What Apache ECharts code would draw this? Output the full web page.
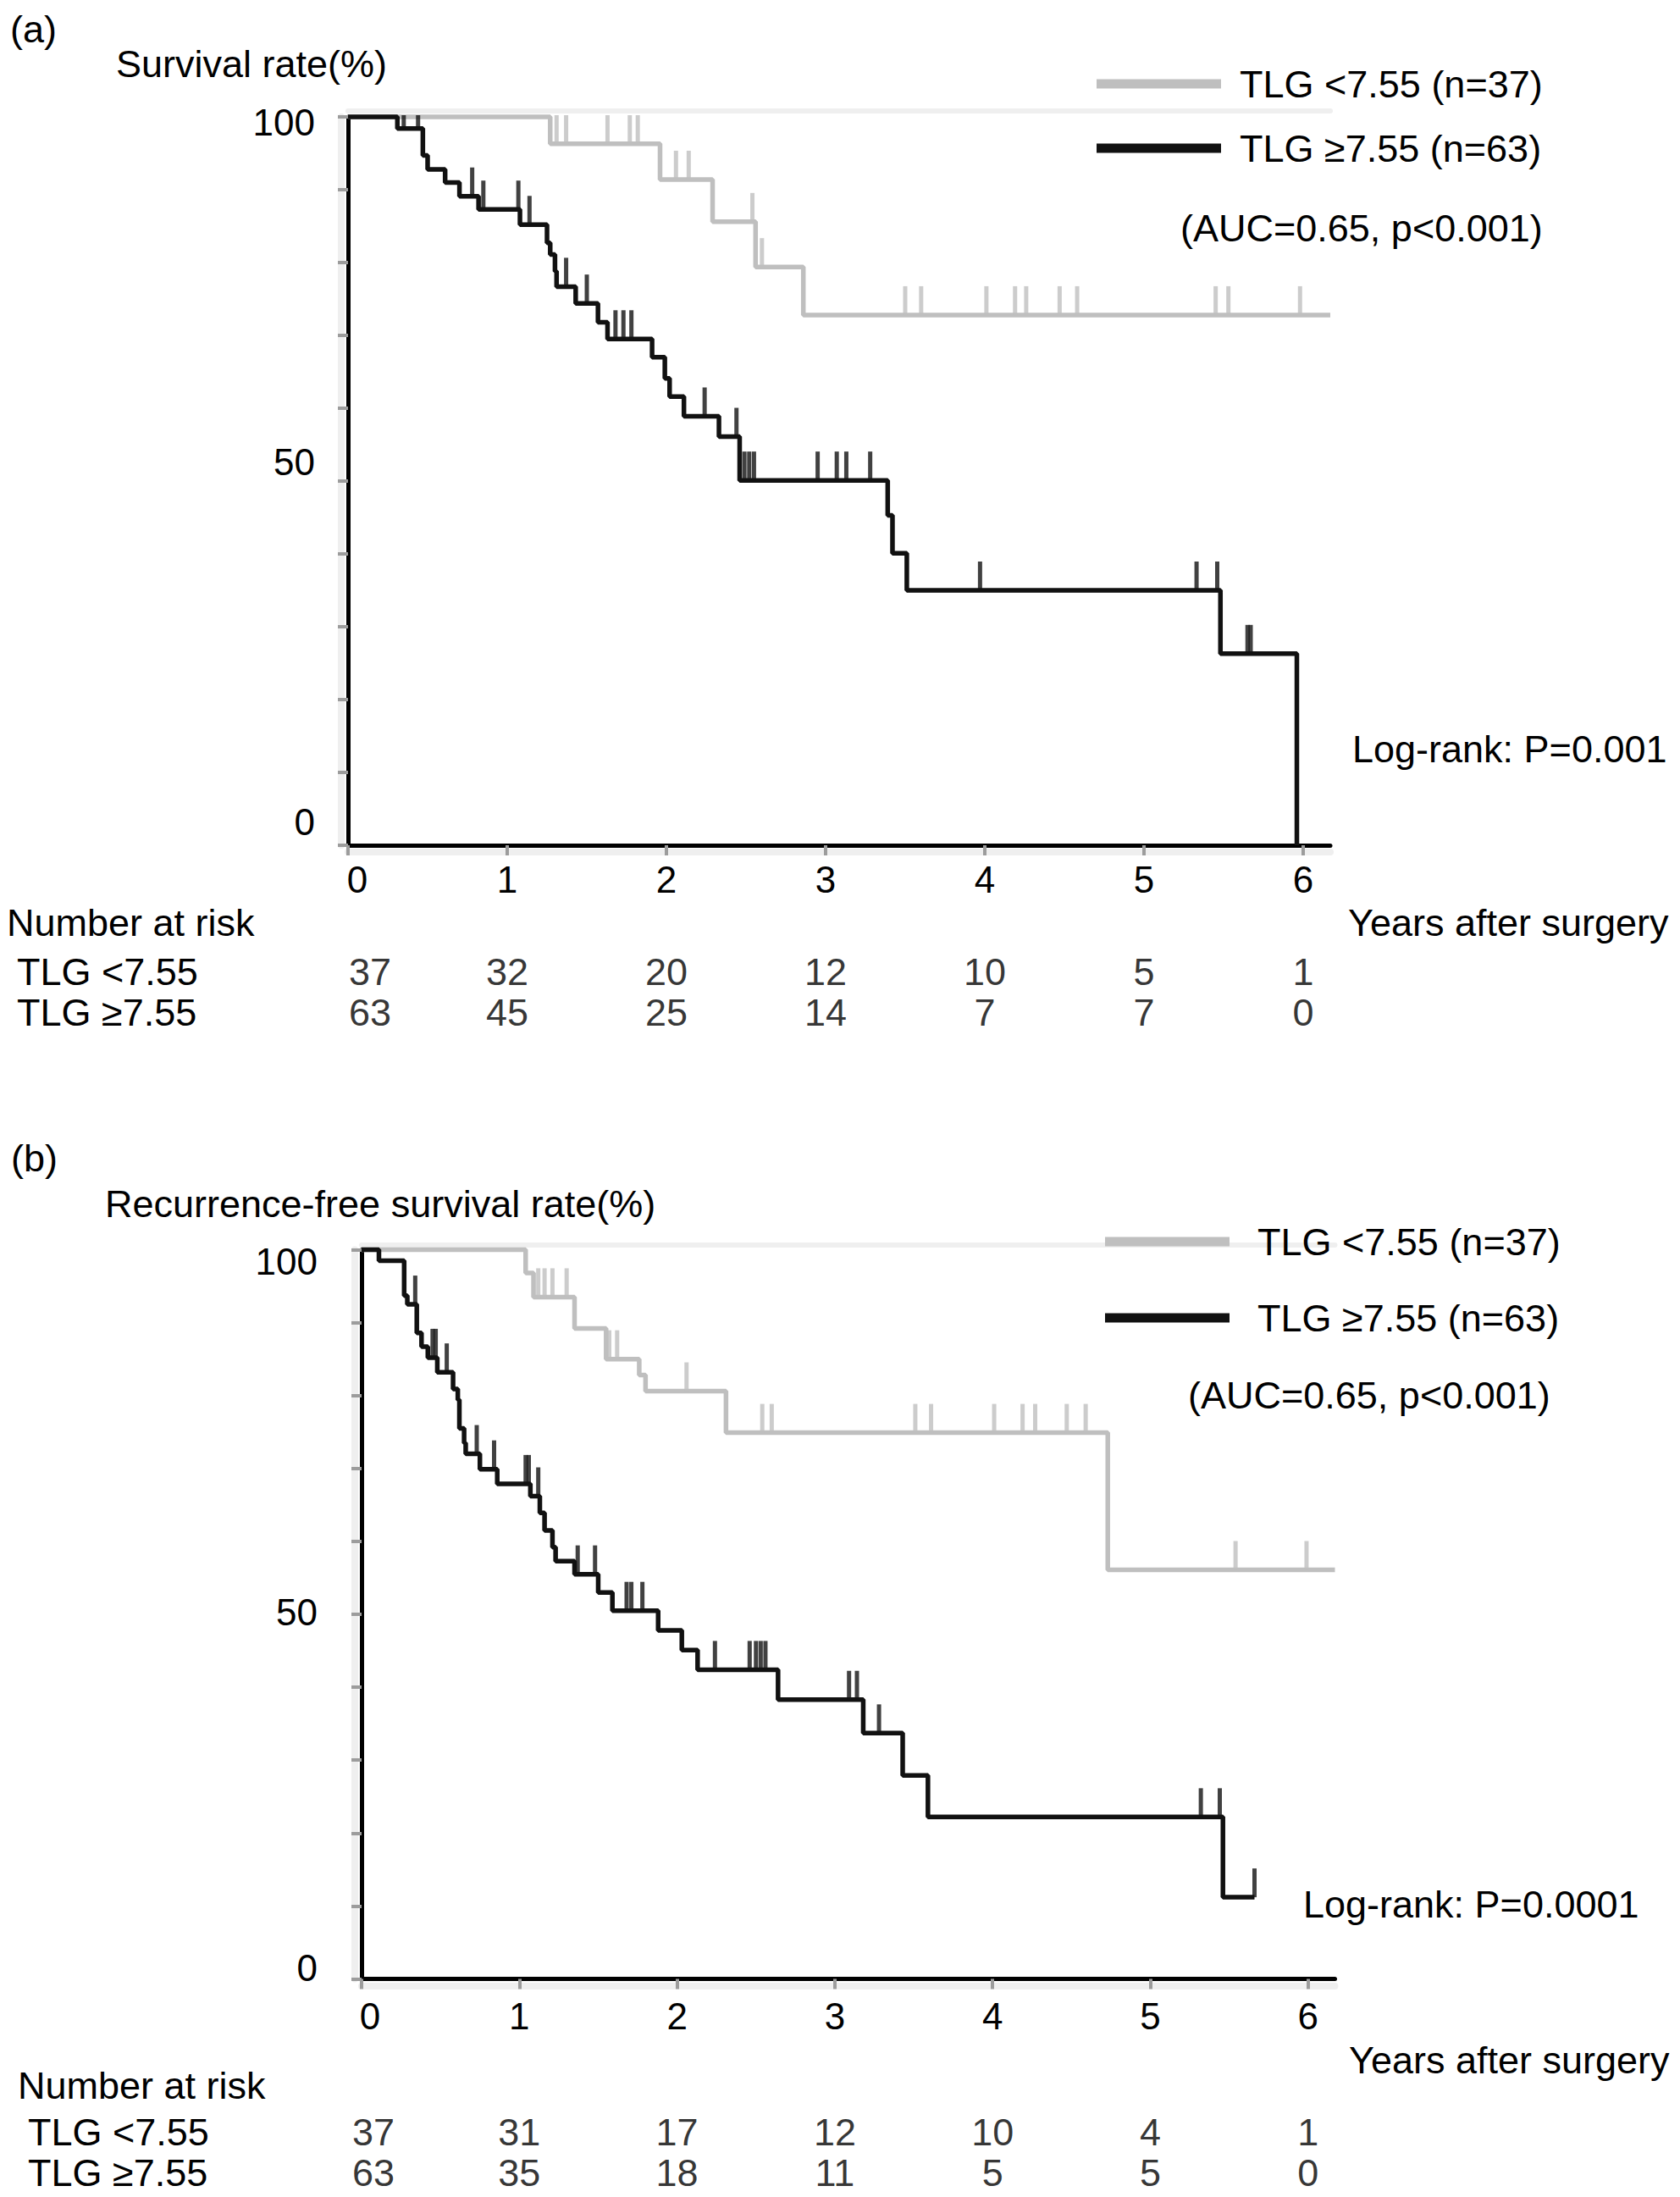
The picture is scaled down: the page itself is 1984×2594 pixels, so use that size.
<!DOCTYPE html>
<html>
<head>
<meta charset="utf-8">
<script src="https://cdn.jsdelivr.net/npm/echarts@6/dist/echarts.min.js"></script>
<style>
html,body{margin:0;padding:0;background:#fff;}
#chart{width:1984px;height:2594px;}
</style>
</head>
<body>
<div id="chart"></div>
<script>
// ---------- data ----------
const X_MAX = 6.17;
const xTickValues = [0, 1, 2, 3, 4, 5, 6];
const yTickValues = [0, 10, 20, 30, 40, 50, 60, 70, 80, 90, 100];
const yLabelValues = [0, 50, 100];
const groupNames = ['TLG <7.55 (n=37)', 'TLG \u22657.55 (n=63)'];
const riskRowNames = ['TLG <7.55', 'TLG \u22657.55'];
const riskTimes = [0, 1, 2, 3, 4, 5, 6];

// (a) overall survival, TLG < 7.55
const osLowTimes = [0, 1.27, 1.96, 2.29, 2.56, 2.86, 6.17];
const osLowSurv  = [100, 96.3, 91.4, 85.6, 79.4, 72.8, 72.8];
const osLowCensor = [1.31, 1.37, 1.63, 1.77, 1.82, 2.06, 2.14, 2.54, 2.60, 3.50, 3.60, 4.01, 4.19, 4.26, 4.47, 4.58, 5.45, 5.53, 5.98];
// (a) overall survival, TLG >= 7.55
const osHighTimes = [0, 0.31, 0.47, 0.50, 0.61, 0.70, 0.82, 1.08, 1.25, 1.27, 1.30, 1.31, 1.43, 1.57, 1.63, 1.91, 1.99, 2.02, 2.11, 2.33, 2.46, 3.39, 3.42, 3.51, 5.48, 5.96];
const osHighSurv  = [100, 98.4, 94.7, 92.8, 91.0, 89.1, 87.3, 85.2, 82.7, 81.1, 78.8, 76.7, 74.4, 71.8, 69.5, 67.0, 64.1, 61.6, 58.9, 56.1, 50.1, 45.3, 40.1, 35.0, 26.3, 0];
const osHighCensor = [0.35, 0.44, 0.78, 0.85, 1.07, 1.14, 1.37, 1.50, 1.68, 1.73, 1.78, 2.24, 2.44, 2.49, 2.52, 2.55, 2.95, 3.07, 3.13, 3.28, 3.97, 5.33, 5.46, 5.65, 5.67];
const osRiskLow  = [37, 32, 20, 12, 10, 5, 1];
const osRiskHigh = [63, 45, 25, 14, 7, 7, 0];

// (b) recurrence-free survival, TLG < 7.55
const rfsLowTimes = [0, 1.04, 1.09, 1.35, 1.55, 1.76, 1.80, 2.31, 4.73, 6.17];
const rfsLowSurv  = [100, 96.8, 93.5, 89.2, 85.0, 82.8, 80.6, 74.9, 56.1, 56.1];
const rfsLowCensor = [1.12, 1.16, 1.21, 1.30, 1.57, 1.62, 2.06, 2.54, 2.60, 3.51, 3.61, 4.01, 4.19, 4.27, 4.47, 4.59, 5.54, 5.99];
// (b) recurrence-free survival, TLG >= 7.55
const rfsHighTimes = [0, 0.11, 0.27, 0.29, 0.35, 0.38, 0.42, 0.48, 0.58, 0.61, 0.62, 0.65, 0.66, 0.75, 0.86, 1.07, 1.13, 1.16, 1.21, 1.23, 1.35, 1.50, 1.59, 1.88, 2.03, 2.13, 2.64, 3.18, 3.43, 3.59, 5.46, 5.66];
const rfsHighSurv  = [100, 98.5, 93.7, 92.5, 88.6, 86.7, 85.2, 83.2, 80.9, 79.4, 75.5, 73.5, 72.0, 69.9, 67.9, 66.2, 63.9, 61.5, 59.2, 57.3, 55.5, 53.0, 50.5, 47.8, 45.1, 42.4, 38.3, 33.7, 27.9, 22.2, 11.2, 11.2];
const rfsHighCensor = [0.34, 0.45, 0.47, 0.54, 0.73, 0.84, 1.04, 1.06, 1.12, 1.37, 1.48, 1.68, 1.71, 1.78, 2.24, 2.46, 2.50, 2.53, 2.56, 3.09, 3.14, 3.28, 5.32, 5.44, 5.66];
const rfsRiskLow  = [37, 31, 17, 12, 10, 4, 1];
const rfsRiskHigh = [63, 35, 18, 11, 5, 5, 0];

// ---------- styling ----------
const FONT = "'Liberation Sans', Arial, sans-serif";
const GRAY = '#bfbfbf';
const BLACK = '#111111';
const TICK_GRAY = '#9c9c9c';
const STRIP = '#efefef';
const CENSOR_LEN = 34;
const PX_PER_PCT = 8.6;

function survAt(times, surv, t) {
  let s = surv[0];
  for (let i = 0; i < times.length; i++) { if (times[i] <= t) s = surv[i]; }
  return s;
}

function kmLine(name, times, surv, color, xi, yi, z) {
  return {
    type: 'line', name, xAxisIndex: xi, yAxisIndex: yi, step: 'end',
    showSymbol: false, symbol: 'none', clip: false, animation: false, z,
    lineStyle: { color, width: 5.5 }, itemStyle: { color },
    data: times.map((t, i) => [t, surv[i]])
  };
}
function kmCensor(name, censors, times, surv, color, xi, yi, z) {
  return {
    type: 'scatter', name, xAxisIndex: xi, yAxisIndex: yi, clip: false, animation: false, silent: true, z,
    symbol: 'rect',
    // tick marks are cut at the top of the plotting area, as in the original
    symbolSize: val => [5, Math.min(CENSOR_LEN, (100 - val[1]) * PX_PER_PCT + 2)],
    symbolOffset: [0, '-50%'],
    itemStyle: { color },
    data: censors.map(t => [t, survAt(times, surv, t)])
  };
}
function riskSeries(counts, row, xi, yi, firstOffset) {
  return {
    type: 'scatter', xAxisIndex: xi, yAxisIndex: yi, silent: true, animation: false,
    symbolSize: 1, itemStyle: { color: 'rgba(0,0,0,0)' },
    label: { show: true, position: 'inside', formatter: p => String(p.value[2]),
             fontSize: 45, color: '#000', fontFamily: FONT },
    data: riskTimes.map((t, i) => {
      const item = { value: [t, row, counts[i]] };
      if (i === 0) item.label = { offset: [firstOffset, 0] };
      return item;
    })
  };
}

function yRich(shifts) {
  const rich = {};
  yLabelValues.forEach(v => {
    const d = shifts[v];
    rich['s' + v] = { fontSize: 44, fontFamily: FONT, color: '#000',
      padding: d >= 0 ? [2 * d, 0, 0, 0] : [0, 0, -2 * d, 0] };
  });
  return rich;
}

function mainX(gi, zeroShift, margin) {
  return {
    gridIndex: gi, type: 'value', min: 0, max: X_MAX, position: 'bottom', z: 2,
    axisLine: { show: true, onZero: false, lineStyle: { color: '#000', width: 5 } },
    axisTick: { show: true, customValues: xTickValues, length: 12, lineStyle: { color: TICK_GRAY, width: 4 } },
    axisLabel: { show: true, customValues: xTickValues, margin, fontSize: 44, fontFamily: FONT, color: '#000',
      formatter: v => (v === 0 ? '{z|0}' : '{n|' + v + '}'),
      rich: { z: { fontSize: 44, fontFamily: FONT, color: '#000', padding: [0, 0, 0, zeroShift] },
              n: { fontSize: 44, fontFamily: FONT, color: '#000' } } },
    splitLine: { show: false }
  };
}
function stripX(gi, pos, offset, width) {
  return {
    gridIndex: gi, type: 'value', min: 0, max: X_MAX, position: pos, offset, z: 0,
    axisLine: { show: true, onZero: false, lineStyle: { color: STRIP, width } },
    axisTick: { show: false }, axisLabel: { show: false }, splitLine: { show: false }
  };
}
function mainY(gi, margin, shifts) {
  return {
    gridIndex: gi, type: 'value', min: 0, max: 100, position: 'left', z: 2,
    axisLine: { show: true, onZero: false, lineStyle: { color: '#000', width: 5 } },
    axisTick: { show: true, customValues: yTickValues, length: 12, lineStyle: { color: TICK_GRAY, width: 4 } },
    axisLabel: { show: true, customValues: yLabelValues, margin, fontSize: 44, fontFamily: FONT, color: '#000',
      formatter: v => '{s' + v + '|' + v + '}', rich: yRich(shifts) },
    splitLine: { show: false }
  };
}
function stripY(gi) {
  return {
    gridIndex: gi, type: 'value', min: 0, max: 100, position: 'left', offset: 8, z: 0,
    axisLine: { show: true, onZero: false, lineStyle: { color: STRIP, width: 8 } },
    axisTick: { show: false }, axisLabel: { show: false }, splitLine: { show: false }
  };
}
function tableX(gi) {
  return { gridIndex: gi, type: 'value', min: 0, max: X_MAX, show: false };
}
function tableY(gi, margin) {
  return {
    gridIndex: gi, type: 'category', data: riskRowNames, inverse: true,
    axisLine: { show: false }, axisTick: { show: false }, splitLine: { show: false },
    axisLabel: { show: true, interval: 0, hideOverlap: false, align: 'left', margin, fontSize: 45, fontFamily: FONT, color: '#000' }
  };
}
function txt(x, y, text) {
  return { type: 'text', x, y, silent: true,
    style: { text, fill: '#000', font: '45px ' + FONT, textVerticalAlign: 'middle', verticalAlign: 'middle', textAlign: 'left', align: 'left' } };
}

// grid geometry
const A_LEFT = 411, A_TOP = 138, A_W = 1160, A_H = 860;
const B_LEFT = 427, B_TOP = 1475.5, B_W = 1149.5, B_H = 861;

const option = {
  backgroundColor: '#ffffff',
  animation: false,
  grid: [
    { left: A_LEFT, top: A_TOP, width: A_W, height: A_H },
    { left: B_LEFT, top: B_TOP, width: B_W, height: B_H },
    { left: A_LEFT, top: 1123, width: A_W, height: 96 },
    { left: B_LEFT, top: 2493, width: B_W, height: 96 }
  ],
  xAxis: [
    mainX(0, 22, 18), stripX(0, 'bottom', 8, 8), stripX(0, 'top', 7, 6),
    mainX(1, 20, 22), stripX(1, 'bottom', 8, 8), stripX(1, 'top', 6, 6),
    tableX(2), tableX(3)
  ],
  yAxis: [
    mainY(0, 39, { 100: 6, 50: -23, 0: -28 }), stripY(0),
    mainY(1, 52, { 100: 14, 50: -3, 0: -13 }), stripY(1),
    tableY(2, 391), tableY(3, 394)
  ],
  legend: [
    { data: groupNames, orient: 'vertical', left: 1290, top: 69, itemWidth: 147, itemHeight: 11, itemGap: 26,
      icon: 'rect', selectedMode: false,
      textStyle: { fontSize: 45, fontFamily: FONT, color: '#000', lineHeight: 50, padding: [0, 0, 0, 17] } },
    { data: groupNames, orient: 'vertical', left: 1300, top: 1436, itemWidth: 147, itemHeight: 11, itemGap: 40,
      icon: 'rect', selectedMode: false,
      textStyle: { fontSize: 45, fontFamily: FONT, color: '#000', lineHeight: 50, padding: [0, 0, 0, 28] } }
  ],
  graphic: [
    txt(12, 34, '(a)'),
    txt(137, 75, 'Survival rate(%)'),
    txt(1394, 269, '(AUC=0.65, p<0.001)'),
    txt(1597, 884, 'Log-rank: P=0.001'),
    txt(8, 1089, 'Number at risk'),
    txt(1592, 1089, 'Years after surgery'),
    txt(13, 1367, '(b)'),
    txt(124, 1421, 'Recurrence-free survival rate(%)'),
    txt(1403, 1647, '(AUC=0.65, p<0.001)'),
    txt(1539, 2248, 'Log-rank: P=0.0001'),
    txt(1593, 2432, 'Years after surgery'),
    txt(21, 2462, 'Number at risk')
  ],
  series: [
    kmLine(groupNames[0], osLowTimes, osLowSurv, GRAY, 0, 0, 3),
    kmCensor(groupNames[0], osLowCensor, osLowTimes, osLowSurv, GRAY, 0, 0, 3),
    kmLine(groupNames[1], osHighTimes, osHighSurv, BLACK, 0, 0, 4),
    kmCensor(groupNames[1], osHighCensor, osHighTimes, osHighSurv, BLACK, 0, 0, 4),

    kmLine(groupNames[0], rfsLowTimes, rfsLowSurv, GRAY, 3, 2, 3),
    kmCensor(groupNames[0], rfsLowCensor, rfsLowTimes, rfsLowSurv, GRAY, 3, 2, 3),
    kmLine(groupNames[1], rfsHighTimes, rfsHighSurv, BLACK, 3, 2, 4),
    kmCensor(groupNames[1], rfsHighCensor, rfsHighTimes, rfsHighSurv, BLACK, 3, 2, 4),

    riskSeries(osRiskLow, riskRowNames[0], 6, 4, 26),
    riskSeries(osRiskHigh, riskRowNames[1], 6, 4, 26),
    riskSeries(rfsRiskLow, riskRowNames[0], 7, 5, 14),
    riskSeries(rfsRiskHigh, riskRowNames[1], 7, 5, 14)
  ]
};

const chart = echarts.init(document.getElementById('chart'), null, { renderer: 'svg' });
chart.setOption(option);
</script>
</body>
</html>
